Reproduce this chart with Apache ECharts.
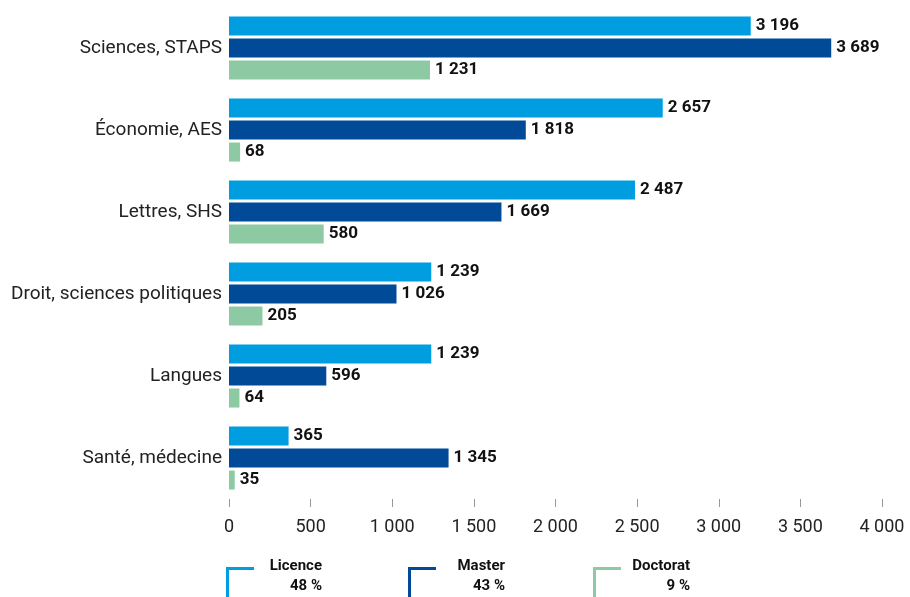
<!DOCTYPE html>
<html><head><meta charset="utf-8">
<script src="https://cdn.jsdelivr.net/npm/echarts@6/dist/echarts.min.js"></script>
<style>html,body{margin:0;padding:0;background:#fff}#c{width:910px;height:597px}</style>
</head><body><div id="c"></div>
<script>
const categories = ["Sciences, STAPS","Économie, AES","Lettres, SHS","Droit, sciences politiques","Langues","Santé, médecine"];
const licence = [3196, 2657, 2487, 1239, 1239, 365];
const master = [3689, 1818, 1669, 1026, 596, 1345];
const doctorat = [1231, 68, 580, 205, 64, 35];
const seriesNames = ["Licence","Master","Doctorat"];
const seriesShares = ["48 %","43 %","9 %"];
const xTicks = [0, 500, 1000, 1500, 2000, 2500, 3000, 3500, 4000];
const colors = ["#009EE0","#004A98","#8DC9A3"];

const fmt = v => String(v).replace(/\B(?=(\d{3})+(?!\d))/g, " ");
const font = "Roboto";

const chart = echarts.init(document.getElementById('c'));
const mk = (name, data, color) => ({
  name, type: 'bar', data, barWidth: 19, barGap: '16%', barCategoryGap: '23%',
  itemStyle: {color},
  label: {show: true, position: 'right', distance: 5, formatter: p => fmt(p.value),
    color: '#111', fontFamily: font, fontWeight: 'bold', fontSize: 17},
  silent: true
});
const legendX = [226, 408, 593];
const legendTextRight = [322, 505, 690];
const graphics = [];
seriesNames.forEach((n, i) => {
  graphics.push({type: 'polyline', shape: {points: [[legendX[i] + 28, 568.5], [legendX[i] + 1.5, 568.5], [legendX[i] + 1.5, 600]]},
    style: {stroke: colors[i], lineWidth: 3, fill: null}});
  graphics.push({type: 'text', x: legendTextRight[i], y: 566, style: {text: n, textAlign: 'right', textVerticalAlign: 'middle',
    font: 'bold 15px Roboto', fill: '#111'}});
  graphics.push({type: 'text', x: legendTextRight[i], y: 586, style: {text: seriesShares[i], textAlign: 'right', textVerticalAlign: 'middle',
    font: 'bold 15px Roboto', fill: '#111'}});
});
chart.setOption({
  animation: false,
  grid: {left: 229, right: 28, top: 7, bottom: 98},
  xAxis: {type: 'value', min: 0, max: 4000, interval: 500,
    axisLine: {show: false}, splitLine: {show: false},
    axisTick: {show: true, length: 8, lineStyle: {color: '#999'}},
    axisLabel: {margin: 19, fontFamily: font, fontSize: 18, color: '#222',
      formatter: v => xTicks.includes(v) ? fmt(v) : ''}},
  yAxis: {type: 'category', data: categories, inverse: true,
    axisLine: {show: false}, axisTick: {show: false},
    axisLabel: {margin: 7, fontFamily: font, fontSize: 19, color: '#222'}},
  series: [mk(seriesNames[0], licence, colors[0]), mk(seriesNames[1], master, colors[1]), mk(seriesNames[2], doctorat, colors[2])],
  graphic: graphics
});
</script></body></html>
